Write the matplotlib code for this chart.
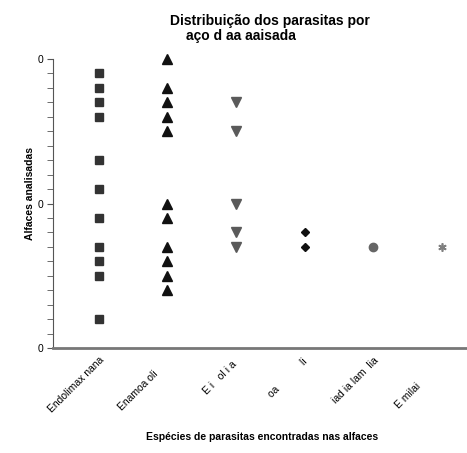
import matplotlib.pyplot as plt
from matplotlib.ticker import MultipleLocator

plt.rcParams['font.family'] = ['Liberation Sans', 'DejaVu Sans']

# tick labels as they appear (glyphs missing in the original)
especies = ['Endolimax nana', 'Enamoa oli       ', 'E i   ol i a  ', 'oa            li ',
            'iad ia lam  lia', 'E milai             ']

endolimax = [19, 18, 17, 16, 13, 11, 9, 7, 6, 5, 2]
entamoeba = [20, 18, 17, 16, 15, 10, 9, 7, 6, 5, 4]
especie3 = [17, 15, 10, 8, 7]
especie4 = [8, 7]
especie5 = [7]
especie6 = [7]

series = [endolimax, entamoeba, especie3, especie4, especie5, especie6]
markers = ['s', '^', 'v', 'D', 'o', (6, 2, 0)]
colors = ['#333333', '#111111', '#5a5a5a', '#111111', '#666666', '#808080']
sizes = [6, 6.5, 6.5, 4.5, 6, 6]

fig = plt.figure(figsize=(4.67, 4.53), dpi=100)
ax = fig.add_axes([53 / 467, 105 / 453, 414 / 467, 289 / 453])

for i, vals in enumerate(series):
    ax.plot([i + 1] * len(vals), vals, linestyle='none', marker=markers[i],
            color=colors[i], markersize=sizes[i], markeredgewidth=1.2 if i == 5 else 1,
            clip_on=False)

ax.set_xlim(0.33, 6.37)
ax.set_ylim(0, 20)
ax.set_xticks(range(1, 7))
ax.set_xticklabels(especies, rotation=45, ha='right', rotation_mode='anchor',
                   fontsize=7.5)
ax.tick_params(axis='x', length=0, pad=5)

ax.set_yticks([0, 10, 20])
ax.yaxis.set_minor_locator(MultipleLocator(1))
ax.set_yticklabels(['0', '0', '0'], fontsize=7.5)
ax.tick_params(axis='y', which='both', length=4, color='#555555', pad=3)

ax.spines['top'].set_visible(False)
ax.spines['right'].set_visible(False)
ax.spines['left'].set_color('#555555')
ax.spines['bottom'].set_color('#777777')
ax.spines['bottom'].set_linewidth(2)

ax.set_ylabel('Alfaces analisadas', fontsize=7.5, fontweight='bold')
ax.yaxis.set_label_coords(-18 / 414, 154 / 289)
fig.text(262 / 467, 1 - 437 / 453, 'Espécies de parasitas encontradas nas alfaces',
         ha='center', va='center', fontsize=7.5, fontweight='bold')

fig.text(170 / 467, 1 - 21 / 453, 'Distribuição dos parasitas por',
         ha='left', va='center', fontsize=10, fontweight='bold')
fig.text(186 / 467, 1 - 36 / 453, 'aço d aa aaisada',
         ha='left', va='center', fontsize=10, fontweight='bold')

fig.savefig('out.png', dpi=100)
